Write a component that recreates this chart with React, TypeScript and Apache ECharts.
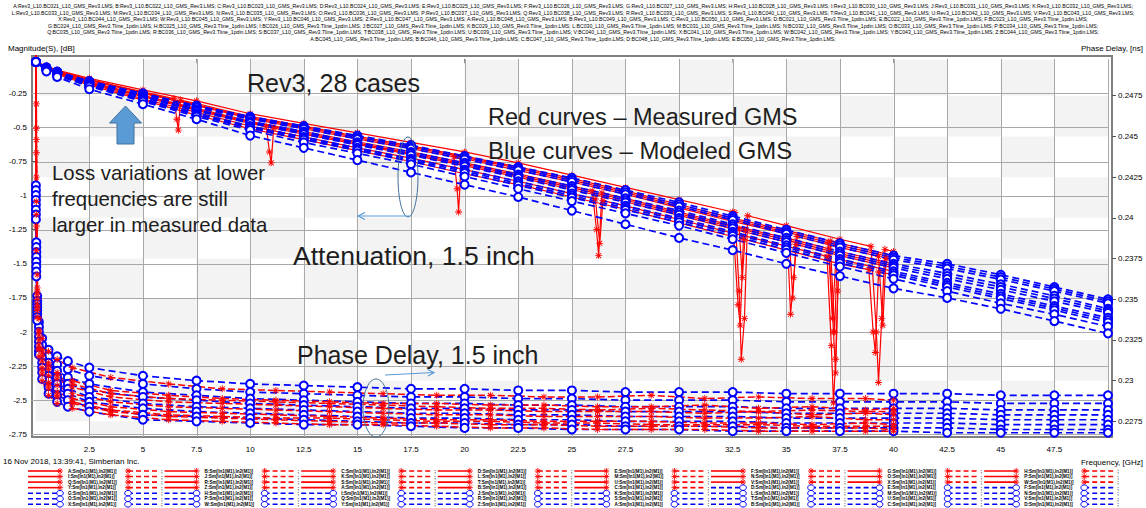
import React, { useEffect, useRef } from 'react';
import * as echarts from 'echarts';

// ---------- frequencies ----------
const F_MAG = [0.01, 0.5, 1, 2.5, 5, 7.5, 10, 12.5, 15, 17.5, 20, 22.5, 25, 27.5, 30, 32.5, 35, 37.5, 40];
const F_MAG_EXT = [42.5, 45, 47.5, 50];
const F_PD = [0.01, 0.03, 0.07, 0.15, 0.3, 0.6, 1, 1.5, 2.5, 5, 7.5, 10, 12.5, 15, 17.5, 20, 22.5, 25, 27.5, 30, 32.5, 35, 37.5, 40];
const F_PD_EXT = [42.5, 45, 47.5, 50];
const F_PD_RED = [0.01, 0.03, 0.07, 0.15, 0.3, 0.6, 1, 1.7, 3.5, 6.2, 8.7, 11.2, 13.7, 16.2, 18.7, 21.2, 23.7, 26.2, 28.7, 31.2, 33.7, 36.2, 38.7, 40];

// ---------- measured (red) attenuation, dB ----------
const RED_MAG_1 = [-0.02, -0.05, -0.08, -0.14, -0.225, -0.305, -0.40, -0.47, -0.54, -0.61, -0.68, -0.76, -0.85, -0.94, -1.03, -1.12, -1.22, -1.32, -1.41];
const RED_MAG_2 = [-0.02, -0.055, -0.085, -0.15, -0.24, -0.325, -0.42, -0.49, -0.565, -0.635, -0.71, -0.79, -0.875, -0.965, -1.065, -1.165, -1.255, -1.35, -1.44];
const RED_MAG_3 = [-0.02, -0.06, -0.09, -0.155, -0.25, -0.34, -0.435, -0.51, -0.585, -0.655, -0.73, -0.815, -0.90, -0.99, -1.09, -1.19, -1.28, -1.38, -1.47];
const RED_MAG_4 = [-0.02, -0.06, -0.095, -0.165, -0.265, -0.36, -0.455, -0.53, -0.605, -0.68, -0.76, -0.84, -0.93, -1.02, -1.12, -1.22, -1.31, -1.41, -1.50];
const RED_MAG_5 = [-0.02, -0.065, -0.10, -0.175, -0.275, -0.375, -0.47, -0.55, -0.625, -0.70, -0.78, -0.865, -0.955, -1.045, -1.145, -1.245, -1.34, -1.44, -1.53];
const RED_MAG_6 = [-0.02, -0.065, -0.105, -0.18, -0.29, -0.39, -0.49, -0.57, -0.65, -0.725, -0.81, -0.895, -0.985, -1.075, -1.175, -1.275, -1.37, -1.47, -1.555];
const RED_MAG_7 = [-0.02, -0.07, -0.11, -0.19, -0.30, -0.41, -0.51, -0.59, -0.67, -0.75, -0.84, -0.92, -1.01, -1.10, -1.20, -1.30, -1.40, -1.50, -1.58];
const RED_MAG_8 = [-0.02, -0.058, -0.088, -0.152, -0.245, -0.333, -0.428, -0.50, -0.575, -0.645, -0.72, -0.80, -0.888, -0.978, -1.078, -1.178, -1.268, -1.365, -1.455];
const RED_MAG_9 = [-0.02, -0.062, -0.098, -0.17, -0.27, -0.368, -0.462, -0.54, -0.615, -0.69, -0.77, -0.852, -0.942, -1.032, -1.132, -1.232, -1.325, -1.425, -1.515];
const RED_MAG = [RED_MAG_1, RED_MAG_2, RED_MAG_3, RED_MAG_4, RED_MAG_5, RED_MAG_6, RED_MAG_7, RED_MAG_8, RED_MAG_9];

// resonance dips of measured curves: [GHz, dB]
const DIPS_1 = [[32.6, -1.124], [32.8, -1.7], [32.9, -2.2], [33.05, -1.9], [33.2, -1.148], [38.95, -1.372], [39.2, -2.0], [39.3, -2.37], [39.45, -1.9], [39.6, -1.394]];
const DIPS_2 = [[6.45, -0.289], [6.58, -0.44], [6.65, -0.52], [6.75, -0.30], [37.05, -1.333], [37.25, -2.0], [37.4, -1.346]];
const DIPS_3 = [[19.5, -0.715], [19.65, -0.95], [19.72, -1.12], [19.85, -0.726], [35.1, -1.5], [35.2, -1.87], [35.35, -1.6], [35.5, -1.30], [39.3, -1.445], [39.5, -1.95], [39.65, -1.46]];
const DIPS_4 = [[25.95, -0.964], [26.15, -1.25], [26.25, -1.44], [26.4, -0.98], [37.0, -1.39], [37.2, -2.0], [37.3, -2.3], [37.4, -1.7]];
const DIPS_5 = [[10.75, -0.494], [10.9, -0.68], [10.98, -0.76], [11.1, -0.505], [35.15, -1.346], [35.3, -1.75], [35.45, -1.358]];
const DIPS_6 = [[26.1, -1.025], [26.3, -1.35], [26.45, -1.037], [36.9, -1.446], [37.1, -2.1], [37.2, -2.52], [37.3, -2.2], [37.45, -1.468]];
const DIPS_7 = [[32.55, -1.302], [32.75, -1.8], [32.85, -1.95], [33.0, -1.32], [38.85, -1.543], [39.05, -2.0], [39.15, -2.15], [39.3, -1.56]];
const DIPS_8 = [[36.95, -1.344], [37.15, -1.9], [37.35, -1.359]];
const DIPS_9 = [[32.8, -1.243], [32.95, -1.6], [33.1, -1.254]];
const RED_DIPS = [DIPS_1, DIPS_2, DIPS_3, DIPS_4, DIPS_5, DIPS_6, DIPS_7, DIPS_8, DIPS_9];

// ---------- modeled (blue) attenuation, dB ----------
const BLUE_MAG_1 = [-0.02, -0.06, -0.09, -0.16, -0.25, -0.34, -0.42, -0.49, -0.56, -0.63, -0.71, -0.79, -0.87, -0.96, -1.05, -1.15, -1.25, -1.35, -1.44, -1.50, -1.58, -1.67, -1.76];
const BLUE_MAG_2 = [-0.02, -0.065, -0.095, -0.17, -0.26, -0.355, -0.44, -0.51, -0.585, -0.655, -0.735, -0.815, -0.90, -0.99, -1.08, -1.18, -1.28, -1.38, -1.47, -1.535, -1.615, -1.70, -1.79];
const BLUE_MAG_3 = [-0.02, -0.07, -0.10, -0.175, -0.27, -0.37, -0.455, -0.53, -0.61, -0.68, -0.76, -0.845, -0.93, -1.02, -1.11, -1.21, -1.31, -1.41, -1.50, -1.57, -1.65, -1.735, -1.83];
const BLUE_MAG_4 = [-0.02, -0.07, -0.105, -0.18, -0.28, -0.38, -0.47, -0.55, -0.63, -0.705, -0.785, -0.87, -0.96, -1.05, -1.14, -1.24, -1.34, -1.44, -1.53, -1.61, -1.69, -1.775, -1.86];
const BLUE_MAG_5 = [-0.02, -0.075, -0.11, -0.19, -0.29, -0.395, -0.49, -0.57, -0.65, -0.73, -0.81, -0.895, -0.985, -1.075, -1.165, -1.265, -1.365, -1.465, -1.555, -1.64, -1.72, -1.81, -1.895];
const BLUE_MAG_6 = [-0.02, -0.075, -0.115, -0.195, -0.30, -0.41, -0.505, -0.59, -0.67, -0.75, -0.835, -0.925, -1.015, -1.105, -1.195, -1.295, -1.395, -1.495, -1.585, -1.67, -1.755, -1.84, -1.93];
const BLUE_MAG_7 = [-0.02, -0.08, -0.12, -0.20, -0.31, -0.42, -0.52, -0.61, -0.69, -0.77, -0.86, -0.95, -1.04, -1.13, -1.22, -1.32, -1.42, -1.52, -1.61, -1.70, -1.79, -1.87, -1.96];
const BLUE_MAG_8 = [-0.02, -0.09, -0.13, -0.22, -0.33, -0.44, -0.56, -0.65, -0.74, -0.83, -0.92, -1.01, -1.11, -1.21, -1.31, -1.40, -1.50, -1.59, -1.68, -1.75, -1.83, -1.92, -2.01];
const BLUE_MAG_9 = [-0.02, -0.062, -0.092, -0.165, -0.255, -0.348, -0.43, -0.50, -0.572, -0.642, -0.722, -0.802, -0.885, -0.975, -1.065, -1.165, -1.265, -1.365, -1.455, -1.518, -1.598, -1.685, -1.775];
const BLUE_MAG_10 = [-0.02, -0.07, -0.102, -0.178, -0.275, -0.375, -0.462, -0.54, -0.62, -0.692, -0.772, -0.857, -0.945, -1.035, -1.125, -1.225, -1.325, -1.425, -1.515, -1.59, -1.67, -1.755, -1.845];
const BLUE_MAG_11 = [-0.02, -0.075, -0.112, -0.192, -0.295, -0.402, -0.497, -0.58, -0.66, -0.74, -0.822, -0.91, -1.0, -1.09, -1.18, -1.28, -1.38, -1.48, -1.57, -1.655, -1.738, -1.825, -1.912];
const BLUE_MAG = [BLUE_MAG_1, BLUE_MAG_9, BLUE_MAG_2, BLUE_MAG_3, BLUE_MAG_10, BLUE_MAG_4, BLUE_MAG_5, BLUE_MAG_11, BLUE_MAG_6, BLUE_MAG_7, BLUE_MAG_8];

// ---------- measured (red) phase delay, ns (at F_PD_RED) ----------
const RED_PD_1 = [0.262, 0.2470, 0.2365, 0.2338, 0.2326, 0.2318, 0.2313, 0.2308, 0.2302, 0.2298, 0.2295, 0.2294, 0.2293, 0.2292, 0.2291, 0.2291, 0.2290, 0.2290, 0.2291, 0.2289, 0.2290, 0.2289, 0.2289, 0.2288];
const RED_PD_2 = [0.261, 0.2455, 0.2357, 0.2331, 0.2319, 0.2311, 0.2305, 0.2300, 0.2294, 0.2291, 0.2289, 0.2288, 0.2287, 0.2286, 0.2286, 0.2285, 0.2285, 0.2284, 0.2284, 0.2285, 0.2283, 0.2284, 0.2282, 0.2283];
const RED_PD_3 = [0.261, 0.2440, 0.2353, 0.2328, 0.2315, 0.2307, 0.2301, 0.2296, 0.2290, 0.2287, 0.2286, 0.2285, 0.2284, 0.2283, 0.2282, 0.2282, 0.2281, 0.2281, 0.2281, 0.2280, 0.2281, 0.2279, 0.2280, 0.2279];
const RED_PD_4 = [0.260, 0.2425, 0.2350, 0.2325, 0.2312, 0.2303, 0.2297, 0.2292, 0.2287, 0.2284, 0.2283, 0.2282, 0.2281, 0.2280, 0.2279, 0.2279, 0.2278, 0.2278, 0.2278, 0.2277, 0.2277, 0.2278, 0.2276, 0.2276];
const RED_PD_5 = [0.260, 0.2410, 0.2347, 0.2322, 0.2308, 0.2299, 0.2293, 0.2289, 0.2284, 0.2281, 0.2280, 0.2279, 0.2278, 0.2277, 0.2276, 0.2276, 0.2275, 0.2275, 0.2275, 0.2274, 0.2274, 0.2273, 0.2274, 0.2273];
const RED_PD_6 = [0.259, 0.2395, 0.2343, 0.2319, 0.2304, 0.2295, 0.2290, 0.2286, 0.2281, 0.2278, 0.2277, 0.2276, 0.2275, 0.2274, 0.2274, 0.2273, 0.2273, 0.2272, 0.2272, 0.2272, 0.2271, 0.2271, 0.2271, 0.2270];
const RED_PD_7 = [0.258, 0.2380, 0.2339, 0.2315, 0.2300, 0.2291, 0.2286, 0.2283, 0.2279, 0.2276, 0.2275, 0.2274, 0.2273, 0.2273, 0.2272, 0.2271, 0.2271, 0.2270, 0.2270, 0.2270, 0.2269, 0.2269, 0.2269, 0.2269];
const RED_PD_8 = [0.261, 0.2448, 0.2355, 0.2330, 0.2317, 0.2309, 0.2303, 0.2298, 0.2292, 0.2289, 0.2288, 0.2287, 0.2286, 0.2285, 0.2284, 0.2283, 0.2283, 0.2282, 0.2283, 0.2282, 0.2281, 0.2282, 0.2281, 0.2281];
const RED_PD_9 = [0.259, 0.2402, 0.2345, 0.2320, 0.2306, 0.2297, 0.2291, 0.2287, 0.2282, 0.2279, 0.2278, 0.2277, 0.2277, 0.2276, 0.2275, 0.2275, 0.2274, 0.2274, 0.2273, 0.2273, 0.2273, 0.2272, 0.2272, 0.2272];
const RED_PD = [RED_PD_1, RED_PD_2, RED_PD_8, RED_PD_3, RED_PD_4, RED_PD_5, RED_PD_9, RED_PD_6, RED_PD_7];

// ---------- modeled (blue) phase delay, ns ----------
const BLUE_PD_1 = [0.2420, 0.2385, 0.2352, 0.2336, 0.2326, 0.2319, 0.2315, 0.2312, 0.2308, 0.2303, 0.2300, 0.2298, 0.2297, 0.2296, 0.2295, 0.2295, 0.2294, 0.2294, 0.2293, 0.2293, 0.2293, 0.2292, 0.2292, 0.2292, 0.2292, 0.2291, 0.2291, 0.2291];
const BLUE_PD_2 = [0.2417, 0.2382, 0.2349, 0.2333, 0.2322, 0.2315, 0.2310, 0.2307, 0.2303, 0.2298, 0.2295, 0.2293, 0.2292, 0.2291, 0.2290, 0.2290, 0.2289, 0.2289, 0.2288, 0.2288, 0.2288, 0.2287, 0.2287, 0.2287, 0.2287, 0.2286, 0.2286, 0.2286];
const BLUE_PD_3 = [0.2414, 0.2379, 0.2347, 0.2330, 0.2318, 0.2311, 0.2306, 0.2302, 0.2298, 0.2293, 0.2291, 0.2289, 0.2288, 0.2287, 0.2286, 0.2286, 0.2285, 0.2285, 0.2284, 0.2284, 0.2284, 0.2283, 0.2283, 0.2283, 0.2283, 0.2282, 0.2282, 0.2282];
const BLUE_PD_4 = [0.2411, 0.2376, 0.2345, 0.2327, 0.2314, 0.2307, 0.2302, 0.2298, 0.2294, 0.2290, 0.2288, 0.2286, 0.2285, 0.2284, 0.2283, 0.2283, 0.2282, 0.2282, 0.2281, 0.2281, 0.2281, 0.2280, 0.2280, 0.2280, 0.2280, 0.2279, 0.2279, 0.2279];
const BLUE_PD_5 = [0.2408, 0.2373, 0.2343, 0.2324, 0.2311, 0.2303, 0.2298, 0.2295, 0.2290, 0.2286, 0.2284, 0.2283, 0.2282, 0.2281, 0.2280, 0.2280, 0.2279, 0.2279, 0.2278, 0.2278, 0.2278, 0.2277, 0.2277, 0.2277, 0.2277, 0.2276, 0.2276, 0.2276];
const BLUE_PD_6 = [0.2405, 0.2370, 0.2341, 0.2321, 0.2308, 0.2300, 0.2295, 0.2292, 0.2287, 0.2283, 0.2281, 0.2280, 0.2279, 0.2278, 0.2277, 0.2277, 0.2276, 0.2276, 0.2275, 0.2275, 0.2275, 0.2274, 0.2274, 0.2274, 0.2274, 0.2273, 0.2273, 0.2273];
const BLUE_PD_7 = [0.2402, 0.2367, 0.2339, 0.2318, 0.2305, 0.2296, 0.2291, 0.2288, 0.2284, 0.2279, 0.2278, 0.2277, 0.2276, 0.2275, 0.2274, 0.2274, 0.2273, 0.2273, 0.2272, 0.2272, 0.2272, 0.2271, 0.2271, 0.2271, 0.2271, 0.2270, 0.2270, 0.2270];
const BLUE_PD_8 = [0.2399, 0.2364, 0.2337, 0.2316, 0.2301, 0.2292, 0.2287, 0.2284, 0.2281, 0.2276, 0.2275, 0.2274, 0.2273, 0.2273, 0.2272, 0.2271, 0.2271, 0.2270, 0.2270, 0.2270, 0.2269, 0.2269, 0.2269, 0.2269, 0.2268, 0.2268, 0.2268, 0.2268];
const BLUE_PD = [BLUE_PD_1, BLUE_PD_2, BLUE_PD_3, BLUE_PD_4, BLUE_PD_5, BLUE_PD_6, BLUE_PD_7, BLUE_PD_8];

// ---------- axes ----------
const X_TICKS = [2.5, 5, 7.5, 10, 12.5, 15, 17.5, 20, 22.5, 25, 27.5, 30, 32.5, 35, 37.5, 40, 42.5, 45, 47.5];
const X_GRID = [2.5, 5, 7.5, 10, 12.5, 15, 17.5, 20, 22.5, 25, 27.5, 30, 32.5, 35, 37.5, 40, 42.5, 45, 47.5, 50];
const LEFT_TICKS = [-0.25, -0.5, -0.75, -1, -1.25, -1.5, -1.75, -2, -2.25, -2.5, -2.75];
const RIGHT_TICKS = [0.2275, 0.23, 0.2325, 0.235, 0.2375, 0.24, 0.2425, 0.245, 0.2475];
const X_BAND_EDGES = [0, 2.5, 5, 7.5, 10, 12.5, 15, 17.5, 20, 22.5, 25, 27.5, 30, 32.5, 35, 37.5, 40, 42.5, 45, 47.5, 50];
const R_BAND_EDGES = [0.2267, 0.2275, 0.23, 0.2325, 0.235, 0.2375, 0.24, 0.2425, 0.245, 0.2475, 0.2497];

// ---------- texts ----------
const HEADER_LINES = [
  'A:Rev3_L10.BC021_L10_GMS_Rev3.LMS; B:Rev3_L10.BC022_L10_GMS_Rev3.LMS; C:Rev3_L10.BC023_L10_GMS_Rev3.LMS; D:Rev3_L10.BC024_L10_GMS_Rev3.LMS; E:Rev3_L10.BC025_L10_GMS_Rev3.LMS; F:Rev3_L10.BC026_L10_GMS_Rev3.LMS; G:Rev3_L10.BC027_L10_GMS_Rev3.LMS; H:Rev3_L10.BC028_L10_GMS_Rev3.LMS; I:Rev3_L10.BC030_L10_GMS_Rev3.LMS; J:Rev3_L10.BC031_L10_GMS_Rev3.LMS; K:Rev3_L10.BC032_L10_GMS_Rev3.LMS;',
  'L:Rev3_L10.BC033_L10_GMS_Rev3.LMS; M:Rev3_L10.BC034_L10_GMS_Rev3.LMS; N:Rev3_L10.BC035_L10_GMS_Rev3.LMS; O:Rev3_L10.BC036_L10_GMS_Rev3.LMS; P:Rev3_L10.BC037_L10_GMS_Rev3.LMS; Q:Rev3_L10.BC038_L10_GMS_Rev3.LMS; R:Rev3_L10.BC039_L10_GMS_Rev3.LMS; S:Rev3_L10.BC040_L10_GMS_Rev3.LMS; T:Rev3_L10.BC041_L10_GMS_Rev3.LMS; U:Rev3_L10.BC042_L10_GMS_Rev3.LMS; V:Rev3_L10.BC043_L10_GMS_Rev3.LMS;',
  'X:Rev3_L10.BC044_L10_GMS_Rev3.LMS; W:Rev3_L10.BC045_L10_GMS_Rev3.LMS; Y:Rev3_L10.BC046_L10_GMS_Rev3.LMS; Z:Rev3_L10.BC047_L10_GMS_Rev3.LMS; A:Rev3_L10.BC048_L10_GMS_Rev3.LMS; B:Rev3_L10.BC049_L10_GMS_Rev3.LMS; C:Rev3_L10.BC050_L10_GMS_Rev3.LMS; D:BC021_L10_GMS_Rev3.Tline_1pdin.LMS; E:BC022_L10_GMS_Rev3.Tline_1pdin.LMS; F:BC023_L10_GMS_Rev3.Tline_1pdin.LMS;',
  'G:BC024_L10_GMS_Rev3.Tline_1pdin.LMS; H:BC025_L10_GMS_Rev3.Tline_1pdin.LMS; I:BC026_L10_GMS_Rev3.Tline_1pdin.LMS; J:BC027_L10_GMS_Rev3.Tline_1pdin.LMS; K:BC029_L10_GMS_Rev3.Tline_1pdin.LMS; L:BC030_L10_GMS_Rev3.Tline_1pdin.LMS; M:BC031_L10_GMS_Rev3.Tline_1pdin.LMS; N:BC032_L10_GMS_Rev3.Tline_1pdin.LMS; O:BC033_L10_GMS_Rev3.Tline_1pdin.LMS; P:BC034_L10_GMS_Rev3.Tline_1pdin.LMS;',
  'Q:BC035_L10_GMS_Rev3.Tline_1pdin.LMS; R:BC036_L10_GMS_Rev3.Tline_1pdin.LMS; S:BC037_L10_GMS_Rev3.Tline_1pdin.LMS; T:BC038_L10_GMS_Rev3.Tline_1pdin.LMS; U:BC039_L10_GMS_Rev3.Tline_1pdin.LMS; V:BC040_L10_GMS_Rev3.Tline_1pdin.LMS; X:BC041_L10_GMS_Rev3.Tline_1pdin.LMS; W:BC042_L10_GMS_Rev3.Tline_1pdin.LMS; Y:BC043_L10_GMS_Rev3.Tline_1pdin.LMS; Z:BC044_L10_GMS_Rev3.Tline_1pdin.LMS;',
  'A:BC045_L10_GMS_Rev3.Tline_1pdin.LMS; B:BC046_L10_GMS_Rev3.Tline_1pdin.LMS; C:BC047_L10_GMS_Rev3.Tline_1pdin.LMS; D:BC048_L10_GMS_Rev3.Tline_1pdin.LMS; E:BC050_L10_GMS_Rev3.Tline_1pdin.LMS;',
];
const RED_NAMES = ['A', 'B', 'C', 'D', 'E', 'F', 'G', 'H', 'I', 'J', 'K', 'L', 'M', 'N', 'O', 'P', 'Q', 'R', 'S', 'T', 'U', 'V', 'X', 'W', 'Y', 'Z', 'A', 'B', 'C'];
const BLUE_NAMES = ['D', 'E', 'F', 'G', 'H', 'I', 'J', 'K', 'L', 'M', 'N', 'O', 'P', 'Q', 'R', 'S', 'T', 'U', 'V', 'X', 'W', 'Y', 'Z', 'A', 'B', 'C', 'D'];
const LEGEND_SUFFIX = ':Sm[In1(M1),In2(M1)]';
const LEFT_AXIS_NAME = 'Magnitude(S), [dB]';
const RIGHT_AXIS_NAME = 'Phase Delay, [ns]';
const X_AXIS_NAME = 'Frequency, [GHz]';
const FOOTER = '16 Nov 2018, 13:39:41, Simberian Inc.';

const RED = '#ff0000';
const BLUE = '#0000ff';
const FONT = '"Liberation Sans", Arial, sans-serif';
const STAR = 'path://M4.4 0h1.2v10h-1.2z M0 4.4h10v1.2h-10z M1.06 1.9l0.85-0.85 7.07 7.07-0.85 0.85z M8.09 1.06l0.85 0.85-7.07 7.07-0.85-0.85z';

const LEFT_MIN = -2.7698;
const LEFT_MAX = 0.0235;

function zip(fs: number[], vs: number[], extra?: number[][]) {
  const pts = fs.map((f, i) => [f, vs[i]]);
  if (extra) extra.forEach((p) => pts.push([p[0], p[1]]));
  pts.sort((a, b) => a[0] - b[0]);
  return pts;
}

function legendMarker(x: number, y: number, red: boolean): any {
  if (red) {
    const r = 3;
    const d = r * 0.707;
    return {
      type: 'group', z: 100, silent: true,
      children: [
        { type: 'line', shape: { x1: x - r, y1: y, x2: x + r, y2: y }, style: { stroke: RED, lineWidth: 0.9 } },
        { type: 'line', shape: { x1: x, y1: y - r, x2: x, y2: y + r }, style: { stroke: RED, lineWidth: 0.9 } },
        { type: 'line', shape: { x1: x - d, y1: y - d, x2: x + d, y2: y + d }, style: { stroke: RED, lineWidth: 0.9 } },
        { type: 'line', shape: { x1: x - d, y1: y + d, x2: x + d, y2: y - d }, style: { stroke: RED, lineWidth: 0.9 } },
      ],
    };
  }
  return { type: 'ellipse', z: 100, silent: true, shape: { cx: x, cy: y, rx: 3.3, ry: 2.8 }, style: { stroke: BLUE, fill: '#fff', lineWidth: 1 } };
}

function buildOption(): any {
  const series: any[] = [];

  // checkerboard shading (XOR of frequency bands and right-axis bands)
  const cells: number[][] = [];
  for (let i = 0; i < X_BAND_EDGES.length - 1; i++) {
    for (let k = 0; k < R_BAND_EDGES.length - 1; k++) {
      if ((i + k) % 2 === 1) cells.push([X_BAND_EDGES[i], X_BAND_EDGES[i + 1], R_BAND_EDGES[k], R_BAND_EDGES[k + 1]]);
    }
  }
  series.push({
    type: 'custom', xAxisIndex: 0, yAxisIndex: 1, silent: true, z: 1,
    encode: { x: [0, 1], y: [2, 3] },
    renderItem: (params: any, api: any) => {
      const a = api.coord([api.value(0), api.value(3)]);
      const b = api.coord([api.value(1), api.value(2)]);
      return { type: 'rect', shape: { x: a[0], y: a[1], width: b[0] - a[0], height: b[1] - a[1] }, style: { fill: '#f3f3f3' } };
    },
    data: cells,
  });

  // grid lines
  const gl: number[][] = [...X_GRID.map((v) => [0, v]), ...LEFT_TICKS.map((v) => [1, v])];
  series.push({
    type: 'custom', xAxisIndex: 0, yAxisIndex: 0, silent: true, z: 1,
    encode: { x: 1, y: 1 },
    renderItem: (params: any, api: any) => {
      const t = api.value(0);
      const v = api.value(1);
      if (t === 0) {
        const p0 = api.coord([v, 0]);
        const p1 = api.coord([v, LEFT_MIN]);
        const x = Math.round(p0[0]) + 0.5;
        return { type: 'line', shape: { x1: x, y1: p0[1], x2: x, y2: p1[1] }, style: { stroke: '#a8a8a8', lineWidth: 1 } };
      }
      const p0 = api.coord([-0.2, v]);
      const p1 = api.coord([50, v]);
      const y = Math.round(p0[1]) + 0.5;
      return { type: 'line', shape: { x1: p0[0], y1: y, x2: p1[0], y2: y }, style: { stroke: '#a8a8a8', lineWidth: 1 } };
    },
    data: gl,
  });

  const allBlueF = F_MAG.concat(F_MAG_EXT);
  const allBluePdF = F_PD.concat(F_PD_EXT);

  BLUE_PD.forEach((vals) => series.push({
    type: 'line', xAxisIndex: 0, yAxisIndex: 1, silent: true, z: 3,
    data: zip(allBluePdF, vals),
    lineStyle: { color: BLUE, width: 1.7, type: [7, 4] },
    symbol: 'emptyCircle', symbolSize: 8, itemStyle: { color: BLUE, borderColor: BLUE, borderWidth: 1.1 },
  }));
  RED_PD.forEach((vals) => series.push({
    type: 'line', xAxisIndex: 0, yAxisIndex: 1, silent: true, z: 3,
    data: zip(F_PD_RED, vals),
    lineStyle: { color: RED, width: 1.5, type: [7, 3] },
    symbol: STAR, symbolSize: 7, itemStyle: { color: RED },
  }));
  RED_MAG.forEach((vals, i) => series.push({
    type: 'line', xAxisIndex: 0, yAxisIndex: 0, silent: true, z: 3,
    data: zip(F_MAG, vals, RED_DIPS[i]),
    lineStyle: { color: RED, width: 1.2 },
    symbol: STAR, symbolSize: 7, itemStyle: { color: RED },
  }));
  BLUE_MAG.forEach((vals) => series.push({
    type: 'line', xAxisIndex: 0, yAxisIndex: 0, silent: true, z: 3,
    data: zip(allBlueF, vals),
    lineStyle: { color: BLUE, width: 1.7, type: [7, 4] },
    symbol: 'emptyCircle', symbolSize: 8, itemStyle: { color: BLUE, borderColor: BLUE, borderWidth: 1.1 },
  }));

  // ---------- graphics ----------
  const g: any[] = [];
  const txt = (x: number, y: number, text: string, size: number, extra: any = {}) => ({
    type: 'text', x, y, z: 100, silent: true,
    style: { text, fontSize: size, fontFamily: FONT, fill: '#000', verticalAlign: 'middle', align: 'left', ...extra },
  });

  const headerY = [6, 12.5, 19, 25.5, 32, 38.5];
  HEADER_LINES.forEach((line, i) => g.push(txt(573, headerY[i], line, 5.2, { align: 'center' })));

  g.push(txt(8, 48, LEFT_AXIS_NAME, 8));
  g.push(txt(1143, 48, RIGHT_AXIS_NAME, 8, { align: 'right' }));
  g.push(txt(1143, 462, X_AXIS_NAME, 8, { align: 'right' }));
  g.push(txt(3, 461, FOOTER, 8));

  // legend
  const entries = [...RED_NAMES.map((n) => ({ n, red: true })), ...BLUE_NAMES.map((n) => ({ n, red: false }))];
  entries.forEach((e, j) => {
    const c = j % 8;
    const r = Math.floor(j / 8);
    const x = 28 + c * 136.6;
    const y = 471 + r * 5.55;
    const col = e.red ? RED : BLUE;
    g.push({ type: 'line', z: 99, silent: true, shape: { x1: x, y1: y, x2: x + 32, y2: y }, style: { stroke: col, lineWidth: 1.6, lineDash: e.red ? null : [5, 3] } });
    g.push(legendMarker(x + 32, y, e.red));
    g.push(txt(x + 40, y, e.n + LEGEND_SUFFIX, 4.6, { fontWeight: 'bold' }));
    g.push({ type: 'line', z: 99, silent: true, shape: { x1: x + 100, y1: y, x2: x + 132, y2: y }, style: { stroke: col, lineWidth: 1.6, lineDash: [5, 3] } });
    g.push(legendMarker(x + 100, y, e.red));
    g.push(txt(x + 133, y, ';', 5, { fontWeight: 'bold' }));
  });

  // annotations
  const ann = '#1e1e1e';
  g.push(txt(247, 83, 'Rev3, 28 cases', 25.1, { fill: ann }));
  g.push(txt(488, 117, 'Red curves \u2013 Measured GMS', 23.5, { fill: ann }));
  g.push(txt(488, 150, 'Blue curves \u2013 Modeled GMS', 23.9, { fill: ann }));
  g.push(txt(52, 173, 'Loss variations at lower', 20.4, { fill: ann }));
  g.push(txt(52, 199, 'frequencies are still', 20.4, { fill: ann }));
  g.push(txt(52, 225, 'larger in measured data', 20.4, { fill: ann }));
  g.push(txt(293, 256, 'Attenuation, 1.5 inch', 26.5, { fill: ann }));
  g.push(txt(297, 355, 'Phase Delay, 1.5 inch', 25, { fill: ann }));

  g.push({
    type: 'polygon', z: 100, silent: true,
    shape: { points: [[125.5, 106], [141.5, 123], [134, 123], [134, 144], [117, 144], [117, 123], [109.5, 123]] },
    style: { fill: '#5b9bd5', stroke: '#41719c', lineWidth: 1 },
  });
  g.push({ type: 'ellipse', z: 100, silent: true, shape: { cx: 408, cy: 177, rx: 10, ry: 40 }, style: { fill: 'none', stroke: '#41719c', lineWidth: 1 } });
  g.push({ type: 'ellipse', z: 100, silent: true, shape: { cx: 376, cy: 408, rx: 13, ry: 29 }, style: { fill: 'none', stroke: '#41719c', lineWidth: 1 } });
  g.push({ type: 'line', z: 100, silent: true, shape: { x1: 411, y1: 216, x2: 358, y2: 216 }, style: { stroke: '#5b9bd5', lineWidth: 1.2 } });
  g.push({ type: 'polyline', z: 100, silent: true, shape: { points: [[365, 212.5], [358, 216], [365, 219.5]] }, style: { stroke: '#5b9bd5', lineWidth: 1.2, fill: 'none' } });
  g.push({ type: 'line', z: 100, silent: true, shape: { x1: 385, y1: 375, x2: 434, y2: 372.5 }, style: { stroke: '#5b9bd5', lineWidth: 1.2 } });
  g.push({ type: 'polyline', z: 100, silent: true, shape: { points: [[427.5, 369.5], [434, 372.5], [428, 376]] }, style: { stroke: '#5b9bd5', lineWidth: 1.2, fill: 'none' } });

  const labelStyle = { fontSize: 8, color: '#000', fontFamily: FONT };
  return {
    animation: false,
    backgroundColor: '#ffffff',
    grid: { left: 32, right: 34, top: 56, bottom: 71, show: true, borderColor: '#808080', borderWidth: 2, backgroundColor: 'transparent', containLabel: false, outerBoundsMode: 'none' },
    xAxis: {
      type: 'value', min: -0.1725, max: 50.187,
      axisLine: { show: false }, splitLine: { show: false }, splitArea: { show: false },
      axisTick: { show: true, customValues: X_TICKS, length: 4, lineStyle: { color: '#555' } },
      axisLabel: { ...labelStyle, customValues: X_TICKS, formatter: (v: number) => String(v), margin: 8 },
    },
    yAxis: [
      {
        type: 'value', position: 'left', min: LEFT_MIN, max: LEFT_MAX,
        axisLine: { show: false }, splitLine: { show: false }, splitArea: { show: false },
        axisTick: { show: true, customValues: LEFT_TICKS, length: 4, lineStyle: { color: '#555' } },
        axisLabel: { ...labelStyle, customValues: LEFT_TICKS, formatter: (v: number) => String(v), margin: 5 },
      },
      {
        type: 'value', position: 'right', min: 0.22654, max: 0.24994,
        axisLine: { show: false }, splitLine: { show: false }, splitArea: { show: false },
        axisTick: { show: true, customValues: RIGHT_TICKS, length: 4, lineStyle: { color: '#555' } },
        axisLabel: { ...labelStyle, customValues: RIGHT_TICKS, formatter: (v: number) => String(v), margin: 6 },
      },
    ],
    graphic: { elements: g },
    series,
  };
}

export default function App() {
  const ref = useRef<HTMLDivElement>(null);
  useEffect(() => {
    document.body.style.margin = '0';
    const chart = echarts.init(ref.current as HTMLDivElement, null, { renderer: 'svg' });
    chart.setOption(buildOption());
    return () => chart.dispose();
  }, []);
  return <div ref={ref} style={{ position: 'absolute', left: 0, top: 0, width: 1146, height: 508 }} />;
}
